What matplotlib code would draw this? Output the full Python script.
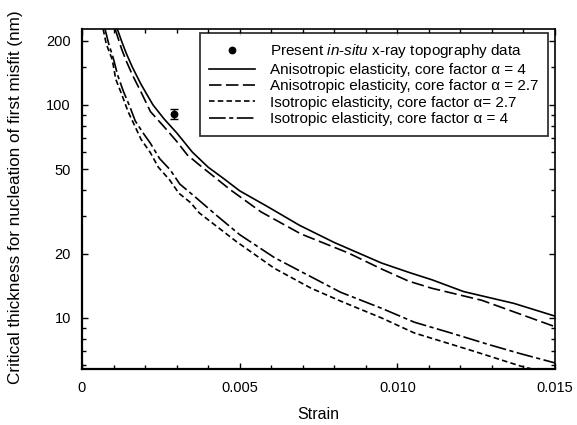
import matplotlib
matplotlib.use("Agg")
import matplotlib.pyplot as plt
from matplotlib.ticker import FixedLocator, FixedFormatter, NullFormatter
import numpy as np

plt.rcParams['font.family'] = ['Liberation Sans', 'DejaVu Sans']
plt.rcParams['mathtext.fontset'] = 'custom'
plt.rcParams['mathtext.rm'] = 'Liberation Sans'
plt.rcParams['mathtext.it'] = 'Liberation Sans:italic'
plt.rcParams['lines.scale_dashes'] = False

# ---- data ----
aniso4_strain = [0.00112, 0.00125, 0.0014, 0.0016, 0.00187, 0.00225, 0.0026, 0.0030, 0.0035,
                 0.0040, 0.0045, 0.0050, 0.0059, 0.0069, 0.0080, 0.0095, 0.0104, 0.0111,
                 0.0121, 0.0137, 0.0150]
aniso4_h = [227, 200, 175, 150, 125, 100, 86, 74, 60, 51, 45, 39.5, 33.2, 27.2, 22.6, 18.1,
            16.3, 15.1, 13.3, 11.7, 10.2]

aniso27_strain = [0.00105, 0.00125, 0.0014, 0.0016, 0.00187, 0.00217, 0.0026, 0.0030,
                  0.00334, 0.00376, 0.00471, 0.00567, 0.00694, 0.00844, 0.00949, 0.01035,
                  0.01108, 0.01268, 0.0150]
aniso27_h = [227, 184, 161, 138, 115, 93, 79, 67.5, 58.2, 51.7, 39.9, 31.5, 24.8, 20.2,
             17.0, 14.9, 13.8, 12.1, 9.1]

iso27_strain = [0.00067, 0.00077, 0.00096, 0.00107, 0.00127, 0.00146, 0.00166, 0.00187,
                0.00217, 0.00242, 0.00278, 0.00307, 0.00344, 0.00372, 0.0049, 0.0061,
                0.00726, 0.0082, 0.0095, 0.01054, 0.0124, 0.0139, 0.0150]
iso27_h = [227, 193, 163, 132, 111, 93, 80.5, 69, 59.6, 51, 44.4, 38.5, 34.8, 31.1, 22.8,
           17.1, 13.8, 12.0, 10.0, 8.5, 7.0, 5.95, 5.4]

iso4_strain = [0.00073, 0.00084, 0.00099, 0.00113, 0.00131, 0.00153, 0.00169, 0.00196,
               0.00217, 0.00246, 0.0028, 0.0031, 0.00354, 0.0043, 0.0050, 0.0061, 0.0073,
               0.0082, 0.0095, 0.01054, 0.0117, 0.0129, 0.0139, 0.0150]
iso4_h = [227, 195, 166, 138, 116, 97, 84, 73, 66, 56, 49.5, 42.5, 37.5, 30, 24.6, 19.2,
          15.5, 13.2, 11.1, 9.55, 8.5, 7.5, 6.8, 6.15]

data_strain = [0.00292]
data_h = [91]
data_err = [5]

labels = [r'Present $\mathit{in}$-$\mathit{situ}$ x-ray topography data',
          'Anisotropic elasticity, core factor \u03b1 = 4',
          'Anisotropic elasticity, core factor \u03b1 = 2.7',
          'Isotropic elasticity, core factor \u03b1= 2.7',
          'Isotropic elasticity, core factor \u03b1 = 4']

xticks = [0, 0.005, 0.010, 0.015]
xticklabels = ['0', '0.005', '0.010', '0.015']
yticks = [10, 20, 50, 100, 200]
yticklabels = ['10', '20', '50', '100', '200']

fig = plt.figure(figsize=(5.77, 4.25), dpi=100)
ax = fig.add_axes([82/577, 1-369/425, (555-82)/577, (369-29)/425])
ax.set_yscale('log')

lw = 1.2
l1, = ax.plot(aniso4_strain, aniso4_h, color='black', lw=lw, linestyle='-')
l2, = ax.plot(aniso27_strain, aniso27_h, color='black', lw=lw, linestyle=(0, (9, 3.2)))
l3, = ax.plot(iso27_strain, iso27_h, color='black', lw=lw, linestyle=(0, (4, 2.3)))
l4, = ax.plot(iso4_strain, iso4_h, color='black', lw=lw, linestyle=(0, (12, 2.5, 3, 2.5)))
ax.errorbar(data_strain, data_h, yerr=data_err, fmt='none', ecolor='black',
            capsize=2.6, elinewidth=1, capthick=1)
pt, = ax.plot(data_strain, data_h, 'o', color='black', markersize=4.6, linestyle='none')

ax.set_xlim(0, 0.015)
ax.set_ylim(5.76, 227)

ax.xaxis.set_major_locator(FixedLocator(xticks))
ax.xaxis.set_major_formatter(FixedFormatter(xticklabels))
ax.xaxis.set_minor_locator(FixedLocator(list(np.arange(0, 0.0151, 0.001))))
ax.yaxis.set_major_locator(FixedLocator(yticks))
ax.yaxis.set_major_formatter(FixedFormatter(yticklabels))
yminor = [6, 7, 8, 9, 30, 40, 60, 70, 80, 90, 150]
ax.yaxis.set_minor_locator(FixedLocator(yminor))
ax.yaxis.set_minor_formatter(NullFormatter())

ax.tick_params(which='both', direction='in', top=True, right=True, labelsize=10.5,
               colors='black')
ax.tick_params(which='major', length=4, width=1)
ax.tick_params(which='minor', length=3, width=1)
ax.tick_params(axis='y', pad=8)
ax.tick_params(axis='x', pad=9)

for s in ['left', 'bottom']:
    ax.spines[s].set_linewidth(1.6)
for s in ['top', 'right']:
    ax.spines[s].set_linewidth(1.2)

ax.set_xlabel('Strain', fontsize=11.5)
ax.xaxis.set_label_coords(0.5, (369-407)/340)
ax.set_ylabel('Critical thickness for nucleation of first misfit (nm)', fontsize=12.3)
ax.yaxis.set_label_coords(-0.125, 0.505)

leg = ax.legend([pt, l1, l2, l3, l4], labels, loc='upper right',
                bbox_to_anchor=((548-82)/473, (369-33)/340), borderaxespad=0,
                fontsize=11, handlelength=3.0, handletextpad=1.0,
                labelspacing=0.16, borderpad=0.62, fancybox=False, frameon=True)
leg.get_frame().set_edgecolor('black')
leg.get_frame().set_linewidth(1.3)

fig.savefig('out.png', dpi=100)
